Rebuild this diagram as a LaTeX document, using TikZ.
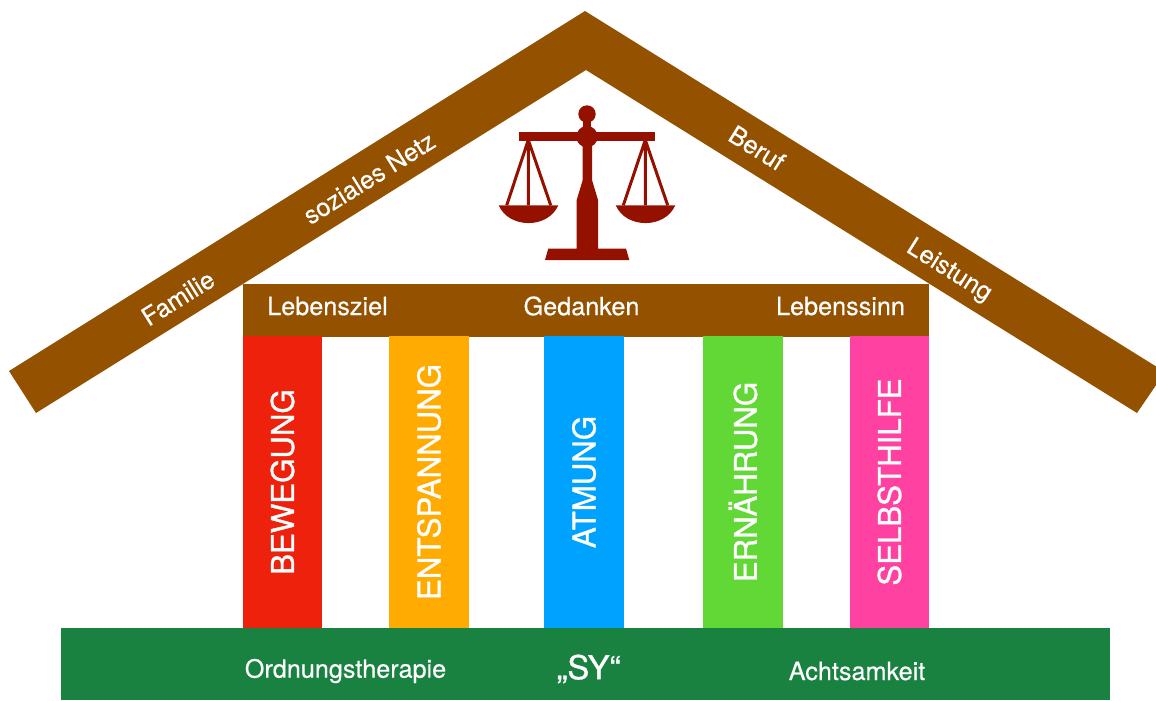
\documentclass[tikz,border=0pt]{standalone}
\usepackage{fontspec}
\setmainfont{TeX Gyre Heros}[FakeBold=0.4]
\newfontfamily\pillarfont{TeX Gyre Heros}[FakeBold=1]

\tikzset{every picture/.style={line width=0.75pt}}
\tikzset{
  roofbrown/.style={fill={rgb, 255:red, 148; green, 82; blue, 0 }},
  scalered/.style={fill={rgb, 255:red, 148; green, 17; blue, 0 }},
  pillar/.style={rotate=90,minimum width=292*0.75pt,minimum height=79.5*0.75pt,inner sep=0pt,text=white,font=\pillarfont\fontsize{23.4}{28}\selectfont},
  lbl/.style={text=white,inner sep=0pt,font=\fontsize{18.9}{22}\selectfont},
  string/.style={draw={rgb, 255:red, 148; green, 17; blue, 0 },line width=2.25pt},
}

\begin{document}
\begin{tikzpicture}[x=0.75pt,y=0.75pt,yscale=-1,xscale=1]
\useasboundingbox (0,0) rectangle (1156,700);
\clip (0,0) rectangle (1156,700);

%Shape: Roof
\draw [roofbrown,draw=none] (585,11) -- (1165,372) -- (1137,413) -- (586,70) -- (36,413) -- (9,371) -- cycle ;

%Shape: Beam
\draw [roofbrown,draw=none] (243,284) rectangle (929,336.5) ;

%Shape: Ground
\draw [fill={rgb, 255:red, 25; green, 130; blue, 65 },draw=none] (61,628) rectangle (1110,700) ;

%Shape: Scale
\draw [string] (528.3,140) -- (506.7,205.3) (528.3,140) -- (528.3,205.3) (528.3,140) -- (550.7,205.3) ;
\draw [string] (645.3,140) -- (623.3,205.3) (645.3,140) -- (645.3,205.3) (645.3,140) -- (667.7,205.3) ;
\draw [scalered,draw=none] (498.7,205.3) .. controls (509,229) and (548,229) .. (558.3,205.3) -- cycle ;
\draw [scalered,draw=none] (615.7,205.3) .. controls (626,229) and (665,229) .. (675.3,205.3) -- cycle ;
\draw [scalered,draw=none] (519.3,132.3) rectangle (655,140.7) ;
\draw [scalered,draw=none] (587,114) circle (8.7*0.75pt) ;
\draw [scalered,draw=none] (587,136.7) circle (10.7*0.75pt) ;
\draw [scalered,draw=none] (583,114) rectangle (591,130) ;
\draw [scalered,draw=none] (582.7,140) -- (592,140) -- (592,180) -- (598,200) -- (598,248.5) -- (626,248.5) -- (629.3,260) -- (545,260) -- (548.3,248.5) -- (576.7,248.5) -- (576.7,200) -- (582.7,180) -- cycle ;

%Pillars
\draw (282.5,482) node (bewegung) [pillar,fill={rgb, 255:red, 238; green, 34; blue, 12 }] {\raisebox{-1.4pt}{BEWEGUNG}};
\draw (429,482) node (entspannung) [pillar,fill={rgb, 255:red, 255; green, 171; blue, 1 }] {\raisebox{-1.4pt}{ENTSPANNUNG}};
\draw (584,482) node (atmung) [pillar,fill={rgb, 255:red, 0; green, 162; blue, 255 }] {\raisebox{-1.4pt}{ATMUNG}};
\draw (743,482) node (ernaehrung) [pillar,fill={rgb, 255:red, 97; green, 216; blue, 54 }] {\raisebox{-1.4pt}{ERNÄHRUNG}};
\draw (889.5,482) node (selbsthilfe) [pillar,fill={rgb, 255:red, 255; green, 66; blue, 161 }] {\raisebox{-1.4pt}{SELBSTHILFE}};

% Text Node
\draw (178,298) node (familie) [lbl,rotate=32] {Familie};
% Text Node
\draw (369,178) node (sozialesnetz) [lbl,rotate=32] {soziales Netz};
% Text Node
\draw (757,148) node (beruf) [lbl,rotate=-32] {Beruf};
% Text Node
\draw (949,271) node (leistung) [lbl,rotate=-32] {Leistung};
% Text Node
\draw (327.5,306) node (lebensziel) [lbl] {Lebensziel};
% Text Node
\draw (581.5,306) node (gedanken) [lbl] {Gedanken};
% Text Node
\draw (840.5,306) node (lebenssinn) [lbl] {Lebenssinn};
% Text Node
\draw (345.5,671) node (ordnungstherapie) [lbl] {Ordnungstherapie};
% Text Node
\draw (588.5,669) node (sy) [lbl,font=\pillarfont\fontsize{24.6}{28}\selectfont] {„SY“};
% Text Node
\draw (857,671) node (achtsamkeit) [lbl] {Achtsamkeit};

\end{tikzpicture}
\end{document}
